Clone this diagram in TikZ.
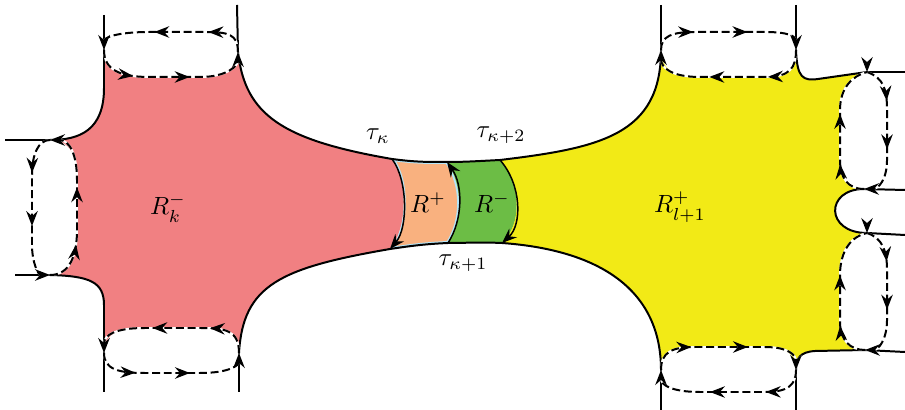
\documentclass[tikz,border=0pt]{standalone}
\usepackage{amsmath}
\usetikzlibrary{arrows.meta, decorations.markings, calc}
\definecolor{regpink}{RGB}{241,128,130}
\definecolor{regpeach}{RGB}{249,177,127}
\definecolor{reggreen}{RGB}{108,189,69}
\definecolor{regyellow}{RGB}{242,234,22}

% outer boundary of the coloured region
\newcommand{\regionoutline}{(A1) .. controls (104,70) and (120,77) .. (150,77) -- (200,77) .. controls (228,77) and (238,65) .. (A2)
  .. controls (245,115) and (282,140) .. (T1) .. controls (415,162) and (425,162) .. (T2) .. controls (465,162) and (480,161) .. (T3) .. controls (600,148) and (661,135) .. (D1)
  .. controls (661,68) and (672,77) .. (700,77) -- (765,77) .. controls (790,77) and (796,68) .. (D2)
  .. controls (797,78) and (803,81) .. (818,79) -- (E1)
  .. controls (852,76) and (840,88) .. (840,110) -- (840,160) .. controls (840,178) and (848,189) .. (E2)
  .. controls (825,189) and (825,233) .. (F1)
  .. controls (852,236) and (840,250) .. (840,275) -- (840,322) .. controls (840,340) and (850,350) .. (F2)
  -- (815,351) .. controls (800,352) and (796,358) .. (G2)
  .. controls (796,355) and (788,347) .. (765,347) -- (695,347) .. controls (672,347) and (661,352) .. (G1)
  .. controls (661,290) and (600,250) .. (U3) .. controls (480,242) and (465,243) .. (U2) .. controls (425,244) and (410,246) .. (U1) .. controls (280,268) and (243,285) .. (C2)
  .. controls (239,330) and (225,328) .. (200,328) -- (145,328) .. controls (115,328) and (104,335) .. (C1)
  -- (104,305) .. controls (104,282) and (90,276) .. (B2)
  .. controls (70,275) and (77,255) .. (77,230) -- (77,180) .. controls (77,155) and (70,140) .. (B1)
  .. controls (80,140) and (104,130) .. (104,88) -- cycle}

\begin{document}
\begin{tikzpicture}[
    x=0.01411cm, y=-0.01411cm,
    bound/.style={thick, black},
    endtip/.style={-{Stealth[length=6pt,width=4.6pt,inset=2pt]}},
    ovalhalf/.style={thick, dash pattern=on 3.2pt off 1.5pt,
      preaction={draw=white, solid, thick},
      postaction={decorate, decoration={markings,
        mark=at position 0.27 with {\arrow{Stealth[length=6pt,width=4.6pt,inset=2pt]}},
        mark=at position 0.62 with {\arrow{Stealth[length=6pt,width=4.6pt,inset=2pt]}}}}},
    tipmark/.style={postaction={decorate, decoration={markings,
        mark=at position 1 with {\arrow[black]{Stealth[length=6pt,width=4.6pt,inset=2pt]}}}}}
]
\useasboundingbox (0,0) rectangle (905,410);

% junctions
\coordinate (A1) at (104,50);
\coordinate (A2) at (238,52);
\coordinate (B1) at (50,140);
\coordinate (B2) at (50,275);
\coordinate (C1) at (104,353);
\coordinate (C2) at (239,353);
\coordinate (D1) at (661,50);
\coordinate (D2) at (796,50);
\coordinate (E1) at (867,72);
\coordinate (E2) at (864,189);
\coordinate (F1) at (867,233);
\coordinate (F2) at (865,350);
\coordinate (G1) at (661,370);
\coordinate (G2) at (796,370);
\coordinate (T1) at (392,159);
\coordinate (T2) at (447,162);
\coordinate (T3) at (500,160);
\coordinate (U1) at (390,249);
\coordinate (U2) at (448,243);
\coordinate (U3) at (502,243);

% fills
\begin{scope}
  \clip \regionoutline;
  \fill[regpink] (0,0) -- (392,0) -- (T1) .. controls (408,180) and (408,228) .. (U1) -- (390,410) -- (0,410) -- cycle;
  \begin{scope}
    \clip (392,0) -- (T1) .. controls (408,180) and (408,228) .. (U1) -- (390,410) -- (448,410) -- (U2) .. controls (463,220) and (463,185) .. (T2) -- (447,0) -- cycle;
    \fill[regpeach] (0,0) rectangle (905,410);
    \draw[cyan!30, line width=1.6pt] \regionoutline;
    \draw[cyan!30, line width=1.6pt] (T1) .. controls (408,180) and (408,228) .. (U1);
    \draw[cyan!30, line width=1.6pt] (U2) .. controls (463,220) and (463,185) .. (T2);
  \end{scope}
  \fill[reggreen] (447,0) -- (T2) .. controls (463,185) and (463,220) .. (U2) -- (448,410) -- (502,410) -- (U3) .. controls (522,225) and (522,185) .. (T3) -- (500,0) -- cycle;
  \fill[regyellow] (500,0) -- (T3) .. controls (522,185) and (522,225) .. (U3) -- (502,410) -- (905,410) -- (905,0) -- cycle;
\end{scope}

% solid boundary
\draw[bound] (A2) .. controls (245,115) and (282,140) .. (T1) .. controls (415,162) and (425,162) .. (T2) .. controls (465,162) and (480,161) .. (T3) .. controls (600,148) and (661,135) .. (D1);
\draw[bound] (D2) .. controls (797,78) and (803,81) .. (818,79) -- (E1);
\draw[bound] (E2) .. controls (825,189) and (825,233) .. (F1);
\draw[bound] (F2) -- (815,351) .. controls (800,352) and (796,358) .. (G2);
\draw[bound] (G1) .. controls (661,290) and (600,250) .. (U3) .. controls (480,242) and (465,243) .. (U2) .. controls (425,244) and (410,246) .. (U1) .. controls (280,268) and (243,285) .. (C2);
\draw[bound] (C1) -- (104,305) .. controls (104,282) and (90,276) .. (B2);
\draw[bound] (B1) .. controls (80,140) and (104,130) .. (104,88) -- (A1);

% tubes
\draw[bound] (104,15) -- (A1);
\draw[bound] (237,5) -- (A2);
\draw[bound] (5,140) -- (B1);
\draw[bound] (15,275) -- (B2);
\draw[bound] (C1) -- (104,392);
\draw[bound] (C2) -- (239,392);
\draw[bound] (661,5) -- (D1);
\draw[bound] (796,5) -- (D2);
\draw[bound] (E1) -- (905,72);
\draw[bound] (E2) -- (905,190);
\draw[bound] (F1) -- (905,235);
\draw[bound] (F2) -- (905,352);
\draw[bound] (G1) -- (661,410);
\draw[bound] (G2) -- (796,410);

% dashed ovals
\draw[ovalhalf, endtip] (A2) .. controls (238,34) and (228,32) .. (205,32) -- (150,32) .. controls (115,32) and (104,38) .. (A1);
\draw[ovalhalf, endtip] (A1) .. controls (104,70) and (120,77) .. (150,77) -- (200,77) .. controls (228,77) and (238,65) .. (A2);
\draw[ovalhalf, endtip] (B1) .. controls (38,140) and (32,155) .. (32,175) -- (32,245) .. controls (32,262) and (38,275) .. (B2);
\draw[ovalhalf, endtip] (B2) .. controls (70,275) and (77,255) .. (77,230) -- (77,180) .. controls (77,155) and (70,140) .. (B1);
\draw[ovalhalf, endtip] (C2) .. controls (239,330) and (225,328) .. (200,328) -- (145,328) .. controls (115,328) and (104,335) .. (C1);
\draw[ovalhalf, endtip] (C1) .. controls (104,370) and (120,373) .. (145,373) -- (200,373) .. controls (230,373) and (239,365) .. (C2);
\draw[ovalhalf, endtip] (D1) .. controls (661,36) and (672,32) .. (695,32) -- (765,32) .. controls (788,32) and (796,36) .. (D2);
\draw[ovalhalf, endtip] (D2) .. controls (796,68) and (790,77) .. (765,77) -- (700,77) .. controls (672,77) and (661,68) .. (D1);
\draw[ovalhalf, endtip] (E1) .. controls (884,78) and (887,90) .. (887,110) -- (887,160) .. controls (887,180) and (878,189) .. (E2);
\draw[ovalhalf] (E2) .. controls (848,189) and (840,178) .. (840,160) -- (840,110) .. controls (840,88) and (852,76) .. (E1);
\draw[ovalhalf, endtip] (F1) .. controls (882,238) and (887,250) .. (887,270) -- (887,320) .. controls (887,340) and (878,350) .. (F2);
\draw[ovalhalf] (F2) .. controls (850,350) and (840,340) .. (840,322) -- (840,275) .. controls (840,250) and (852,236) .. (F1);
\draw[ovalhalf, endtip] (G1) .. controls (661,352) and (672,347) .. (695,347) -- (765,347) .. controls (788,347) and (796,355) .. (G2);
\draw[ovalhalf, endtip] (G2) .. controls (796,385) and (788,392) .. (765,392) -- (700,392) .. controls (672,392) and (661,385) .. (G1);
\path[tipmark] ($(E1)+(0,-12)$) -- (E1);
\path[tipmark] ($(F1)+(0,-12)$) -- (F1);

% cuts in the neck
\draw[bound, semithick, endtip] (T1) .. controls (408,180) and (408,228) .. (U1);
\draw[bound, semithick, endtip] (U2) .. controls (463,220) and (463,185) .. (T2);
\draw[bound, semithick, endtip] (T3) .. controls (522,185) and (522,225) .. (U3);

% labels
\node (rk) at (168,208) {$R_k^-$};
\node (rp) at (428,203) {$R^+$};
\node (rm) at (492,203) {$R^-$};
\node (rl) at (680,207) {$R_{l+1}^+$};
\node (tk) at (378,136) {$\tau_\kappa$};
\node (tk2) at (501,135) {$\tau_{\kappa+2}$};
\node (tk1) at (463,263) {$\tau_{\kappa+1}$};
\end{tikzpicture}
\end{document}
